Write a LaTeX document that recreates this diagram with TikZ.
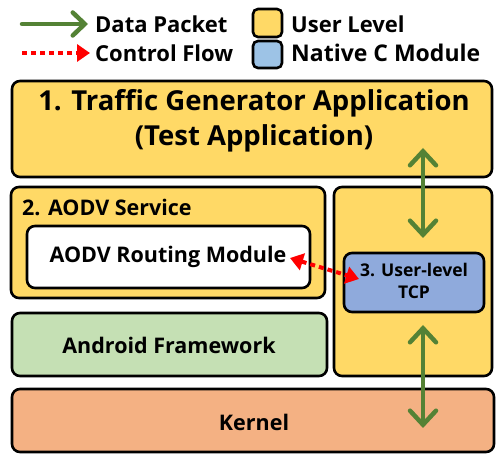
\documentclass[tikz,border=0pt]{standalone}
\usepackage{fontspec}
\setmainfont{Open Sans}[BoldFont={Open Sans Bold}]
\usetikzlibrary{arrows.meta}
\definecolor{userY}{HTML}{FFD966}
\definecolor{nativeB}{HTML}{9DC3E6}
\definecolor{tcpB}{HTML}{8FAADC}
\definecolor{fwG}{HTML}{C5E0B4}
\definecolor{kernO}{HTML}{F4B183}
\definecolor{pktG}{HTML}{548235}
\definecolor{ctlR}{HTML}{FF0000}
\begin{document}
\begin{tikzpicture}[x=1pt, y=-1pt,
  box/.style={draw=black, rounded corners=8pt, line width=2.6pt},
  lbl/.style={inner sep=0pt, font=\bfseries\fontsize{21.5}{24}\selectfont},
  leg/.style={inner sep=0pt, anchor=west, font=\bfseries\fontsize{22}{24}\selectfont},
  big/.style={inner sep=0pt, font=\bfseries\fontsize{27.5}{35}\selectfont, align=center},
  data/.style={draw=pktG, line width=4.5pt, line cap=round},
  barb/.tip={Straight Barb[length=14pt,width=26pt,line cap=round]},
  ctrl/.style={draw=ctlR, line width=4pt, dash pattern=on 5pt off 4pt}]
  \useasboundingbox (0,0) rectangle (496,454);
  % legend
  \coordinate (pktA) at (22,24); \coordinate (pktB) at (88,24);
  \draw[data, -{Straight Barb[length=12pt,width=23pt,line cap=round]}] (pktA) -- (pktB);
  \node[leg] (pktT) at (95,24) {Data Packet};
  \coordinate (ctlA) at (22,53); \coordinate (ctlB) at (90,53);
  \draw[ctrl, -{Triangle[length=13pt,width=17pt,fill=ctlR]}] (ctlA) -- (ctlB);
  \node[leg] (ctlT) at (95,53) {Control Flow};
  \draw[box, fill=userY, rounded corners=5pt] (253,9) rectangle (282,37);
  \node[leg] (usrT) at (291,24) {User Level};
  \draw[box, fill=nativeB, rounded corners=5pt] (253,41) rectangle (282,68);
  \node[leg, font=\bfseries\fontsize{23}{24}\selectfont] (natT) at (291,53) {Native C Module};
  % 1. traffic generator
  \draw[box, fill=userY] (12,81) rectangle (492,177);
  \node[big] (app) at (254,121) {1. Traffic Generator Application\\(Test Application)};
  % 2. AODV service
  \draw[box, fill=userY] (11,187) rectangle (325,298);
  \node[lbl, anchor=west] (aodvT) at (22,207) {2. AODV Service};
  \draw[box, fill=white] (27,226) rectangle (310,288);
  \node[lbl] (rtm) at (168,257) {AODV Routing Module};
  % user level column + TCP
  \draw[box, fill=userY] (334,187) rectangle (492,376);
  \draw[box, fill=tcpB] (344,253) rectangle (484,312);
  \node[inner sep=0pt, font=\bfseries\fontsize{17.5}{22}\selectfont, align=center] (tcp) at (414,281) {3. User-level\\TCP};
  % android framework, kernel
  \draw[box, fill=fwG] (12,313) rectangle (327,376);
  \node[lbl] (fw) at (169,345) {Android Framework};
  \draw[box, fill=kernO] (12,389) rectangle (494,452);
  \node[lbl] (kern) at (254,422) {Kernel};
  % data path
  \coordinate (p1) at (423,148); \coordinate (p2) at (423,238);
  \coordinate (p3) at (423,325); \coordinate (p4) at (423,428);
  \draw[data, barb-barb] (p1) -- (p2);
  \draw[data, barb-barb] (p3) -- (p4);
  % control flow
  \coordinate (c1) at (290,258); \coordinate (c2) at (359,279);
  \draw[ctrl, {Triangle[length=13pt,width=17pt,fill=ctlR]}-{Triangle[length=13pt,width=17pt,fill=ctlR]}] (c1) -- (c2);
\end{tikzpicture}
\end{document}
